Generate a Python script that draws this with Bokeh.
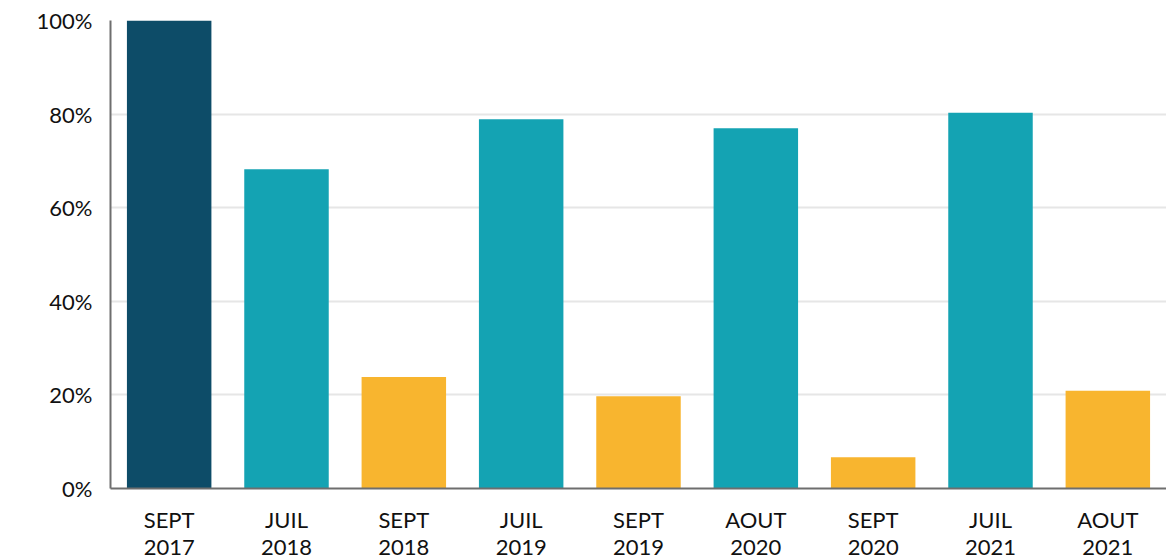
from bokeh.plotting import figure
from bokeh.models import ColumnDataSource, FactorRange, NumeralTickFormatter, FixedTicker
from bokeh.embed import file_html
from bokeh.resources import INLINE

categories = ["SEPT\n2017", "JUIL\n2018", "SEPT\n2018", "JUIL\n2019", "SEPT\n2019",
              "AOUT\n2020", "SEPT\n2020", "JUIL\n2021", "AOUT\n2021"]
values = [1.00, 0.682, 0.238, 0.789, 0.197, 0.770, 0.067, 0.803, 0.209]
colors = ["#0d4c68", "#14a3b3", "#f8b52f", "#14a3b3", "#f8b52f",
          "#14a3b3", "#f8b52f", "#14a3b3", "#f8b52f"]
y_ticks = [0, 0.2, 0.4, 0.6, 0.8, 1.0]

source = ColumnDataSource(dict(cat=categories, val=values, color=colors))

FONT = "Lato"

p = figure(x_range=FactorRange(*categories, range_padding=0),
           y_range=(0, 1.0),
           frame_width=1056, frame_height=468,
           output_backend="svg", toolbar_location=None,
           min_border_left=110, min_border_top=20, min_border_right=0, min_border_bottom=20)

p.vbar(x="cat", top="val", width=0.72, color="color", source=source, line_color=None)

p.outline_line_color = None
p.xgrid.grid_line_color = None
p.ygrid.grid_line_color = "#e6e6e6"
p.ygrid.grid_line_width = 2

p.yaxis.ticker = FixedTicker(ticks=y_ticks)
p.yaxis.formatter = NumeralTickFormatter(format="0%")

for ax in (p.xaxis, p.yaxis):
    ax.axis_line_color = "#6e6e6e"
    ax.axis_line_width = 2
    ax.major_tick_line_color = None
    ax.minor_tick_line_color = None
    ax.major_tick_out = 0
    ax.major_tick_in = 0
    ax.major_label_text_font = FONT
    ax.major_label_text_font_size = "22px"
    ax.major_label_text_color = "#111111"

p.xaxis.major_label_text_line_height = 1.03
p.xaxis.major_label_standoff = 17
p.yaxis.major_label_standoff = 18

open("out.html", "w").write(file_html(p, INLINE))
